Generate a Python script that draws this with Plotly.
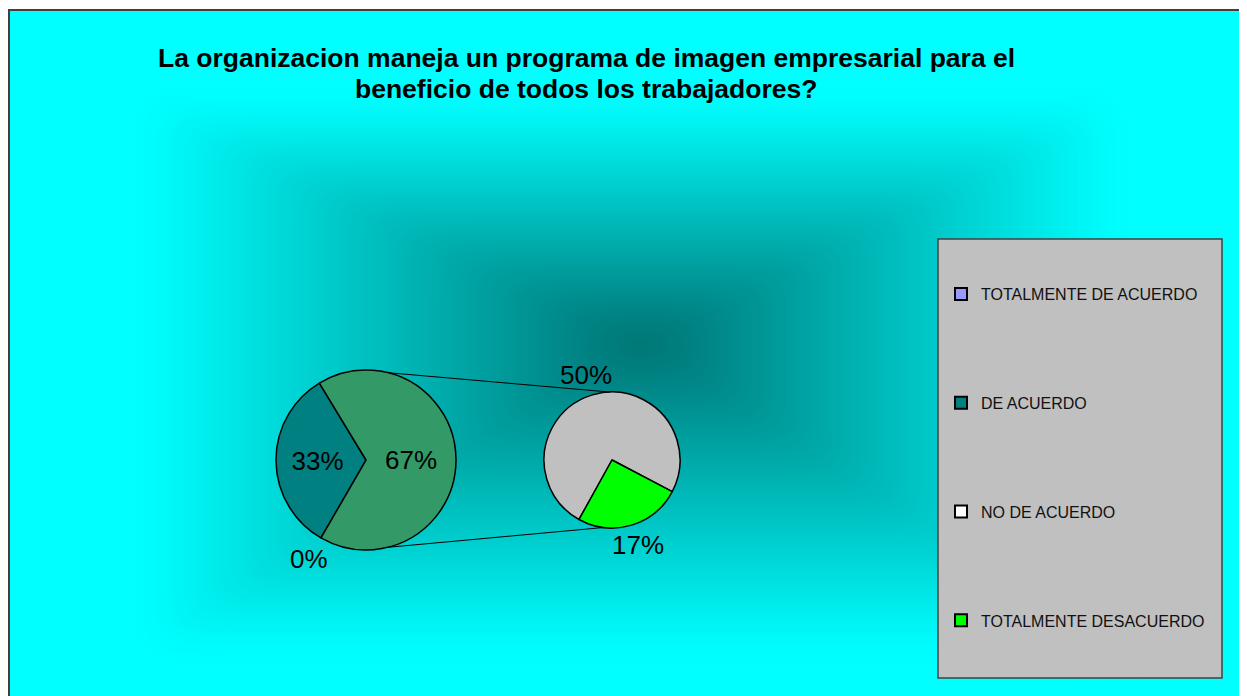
import base64
import math
import plotly.graph_objects as go

# the page puts the figure 8px in from the window corner, so work in window pixels
OFF = 8
W, H = 1247 - OFF, 696 - OFF

# data
title_lines = ["La organizacion maneja un programa de imagen empresarial para el",
               "beneficio de todos los trabajadores?"]
main_labels = ["TOTALMENTE DE ACUERDO", "DE ACUERDO", "Otro"]
main_values = [0, 33, 67]
main_colors = ["#9999ff", "#008080", "#339966"]
sub_labels = ["NO DE ACUERDO", "TOTALMENTE DESACUERDO"]
sub_values = [50, 17]
sub_colors = ["#c0c0c0", "#00ff00"]
legend_labels = ["TOTALMENTE DE ACUERDO", "DE ACUERDO", "NO DE ACUERDO", "TOTALMENTE DESACUERDO"]
legend_colors = ["#9999ff", "#008080", "#ffffff", "#00ff00"]

FONT = "Liberation Sans, Arial"


def px(x, y):
    return (x - OFF) / W, 1 - (y - OFF) / H


def domain(cx, cy, r):
    (x0, y0), (x1, y1) = px(cx - r, cy + r), px(cx + r, cy - r)
    return dict(x=[x0, x1], y=[y0, y1])


# background: rectangular "from centre" gradient, drawn as an svg picture
gx0, gy0, gx1, gy1 = 145 - OFF, 102 - OFF, 1115 - OFF, 648 - OFF
gcx, gcy = 642 - OFF, 342 - OFF
edge, mid = "#00ffff", "#007272"
tris = [
    ((gx0, gy0), (gx1, gy0), gcy, gy0, "v"),
    ((gx1, gy1), (gx0, gy1), gcy, gy1, "v"),
    ((gx0, gy1), (gx0, gy0), gcx, gx0, "h"),
    ((gx1, gy0), (gx1, gy1), gcx, gx1, "h"),
]
defs, polys = "", ""
for k, (a, b, c, e, o) in enumerate(tris):
    g = f'x1="0" y1="{e}" x2="0" y2="{c}"' if o == "v" else f'x1="{e}" y1="0" x2="{c}" y2="0"'
    defs += (f'<linearGradient id="g{k}" gradientUnits="userSpaceOnUse" {g}>'
             f'<stop offset="0" stop-color="{edge}"/><stop offset="1" stop-color="{mid}"/></linearGradient>')
    polys += (f'<polygon points="{a[0]},{a[1]} {b[0]},{b[1]} {gcx},{gcy}" '
              f'fill="url(#g{k})" stroke="url(#g{k})" stroke-width="2"/>')
svg = (f'<svg xmlns="http://www.w3.org/2000/svg" width="{W}" height="{H}" viewBox="0 0 {W} {H}" '
       f'preserveAspectRatio="none"><defs>{defs}<filter id="b" x="-20%" y="-20%" width="140%" height="140%">'
       f'<feGaussianBlur stdDeviation="16"/></filter></defs>'
       f'<rect x="0" y="0" width="{W}" height="{H}" fill="#ffffff"/>'
       f'<rect x="{9 - OFF}" y="{10 - OFF}" width="{1241 - 9}" height="{H}" fill="{edge}"/>'
       f'<g filter="url(#b)">{polys}</g></svg>')
bg_src = "data:image/svg+xml;base64," + base64.b64encode(svg.encode()).decode()

fig = go.Figure()

main_c, main_r, main_rot = (366, 460), 90, 210
sub_c, sub_r, sub_rot = (612, 460), 68, 209

fig.add_trace(go.Pie(
    labels=main_labels, values=main_values, sort=False, direction="clockwise", rotation=main_rot,
    marker=dict(colors=main_colors, line=dict(color="#000000", width=[0, 1.5, 1.5])),
    text=["" if v == 0 else f"{v}%" for v in main_values], texttemplate="%{text}", textinfo="text",
    textposition="inside", insidetextorientation="horizontal",
    textfont=dict(family=FONT, size=26, color="#000000"),
    domain=domain(*main_c, main_r), showlegend=False, hoverinfo="label+value",
))
fig.add_trace(go.Pie(
    labels=sub_labels, values=sub_values, sort=False, direction="clockwise", rotation=sub_rot,
    marker=dict(colors=sub_colors, line=dict(color="#000000", width=1.5)),
    textinfo="none",
    domain=domain(*sub_c, sub_r), showlegend=False, hoverinfo="label+value",
))

for lab, col in zip(legend_labels, legend_colors):
    fig.add_trace(go.Scatter(
        x=[None], y=[None], mode="markers", name=lab, legendgroup=lab,
        marker=dict(symbol="square", size=10, color=col, line=dict(color="#000000", width=2)),
    ))

annotations = []


def outside_labels(values, centre, r, rot, gap, which):
    # Excel style: each label centred on the slice's middle angle, just past the rim
    total = sum(values)
    cum = 0
    for i, v in enumerate(values):
        ang = math.radians(rot + 360 * (cum + v / 2) / total)
        cum += v
        if i not in which:
            continue
        x = centre[0] + (r + gap) * math.sin(ang)
        y = centre[1] - (r + gap) * math.cos(ang)
        ax, ay = px(x, y)
        annotations.append(dict(text=f"{v}%", x=ax, y=ay, xref="paper", yref="paper",
                                xanchor="center", yanchor="middle", showarrow=False,
                                font=dict(family=FONT, size=26, color="#000000")))


outside_labels(main_values, main_c, main_r, main_rot, 24, [0])
outside_labels(sub_values, sub_c, sub_r, sub_rot, 21, [0, 1])

# connector lines between the two pies
shapes = []
for a_main, a_sub in [(76, 92), (-76, -97)]:
    x0 = main_c[0] + main_r * math.cos(math.radians(a_main))
    y0 = main_c[1] - main_r * math.sin(math.radians(a_main))
    x1 = sub_c[0] + sub_r * math.cos(math.radians(a_sub))
    y1 = sub_c[1] - sub_r * math.sin(math.radians(a_sub))
    p0, p1 = px(x0, y0), px(x1, y1)
    shapes.append(dict(type="line", xref="paper", yref="paper", x0=p0[0], y0=p0[1], x1=p1[0], y1=p1[1],
                       line=dict(color="#000000", width=1)))

# outer frame and legend box
f0, f1 = px(9, 10), px(1240, 720)
shapes.insert(0, dict(type="rect", xref="paper", yref="paper", x0=f0[0], y0=f0[1], x1=f1[0], y1=f1[1],
                      line=dict(color="#404040", width=2), fillcolor="rgba(0,0,0,0)", layer="below"))
l0, l1 = px(938, 239), px(1222, 678)
shapes.append(dict(type="rect", xref="paper", yref="paper", x0=l0[0], y0=l0[1], x1=l1[0], y1=l1[1],
                   line=dict(color="#404040", width=1.5), fillcolor="#c0c0c0", layer="below"))

for line, yy in zip(title_lines, [58, 89]):
    tx, ty = px(586, yy)
    annotations.append(dict(text=f"<b>{line}</b>", xref="paper", yref="paper", x=tx, y=ty,
                            xanchor="center", yanchor="middle", showarrow=False,
                            font=dict(family=FONT, size=26.5, color="#000000")))

lx, ly = px(941, 277)
fig.update_layout(
    width=W, height=H, margin=dict(l=0, r=0, t=0, b=0),
    paper_bgcolor="#ffffff", plot_bgcolor="rgba(0,0,0,0)",
    xaxis=dict(visible=False), yaxis=dict(visible=False),
    images=[dict(source=bg_src, xref="paper", yref="paper", x=0, y=1, sizex=1, sizey=1,
                 sizing="stretch", layer="below", xanchor="left", yanchor="top")],
    shapes=shapes, annotations=annotations,
    legend=dict(x=lx, y=ly, xanchor="left", yanchor="top", bgcolor="rgba(0,0,0,0)",
                borderwidth=0, tracegroupgap=85, itemsizing="constant",
                font=dict(family=FONT, size=16, color="#111111")),
    showlegend=True,
)

fig.write_html("out.html")
